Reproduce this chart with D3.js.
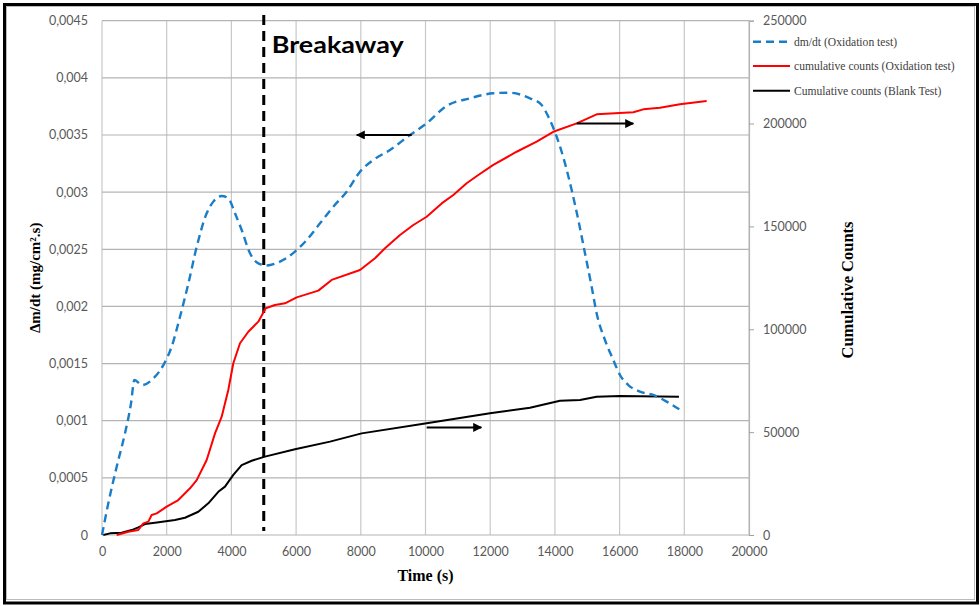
<!DOCTYPE html>
<html><head><meta charset="utf-8">
<script src="https://cdn.jsdelivr.net/npm/d3@7"></script>
<style>body{margin:0;background:#fff}svg{display:block}</style>
</head><body>
<svg id="c" width="980" height="606"></svg>
<script>
// ---- data ----
const xTicks = [0,2000,4000,6000,8000,10000,12000,14000,16000,18000,20000];
const leftTicks = [0,0.0005,0.001,0.0015,0.002,0.0025,0.003,0.0035,0.004,0.0045];
const leftTickLabels = ["0","0,0005","0,001","0,0015","0,002","0,0025","0,003","0,0035","0,004","0,0045"];
const rightTicks = [0,50000,100000,150000,200000,250000];

const dmdtTime = [0,195,454,711,896,1000,1247,1587,1896,2153,2411,2669,2926,3236,3441,3700,3904,4111,4318,4575,4832,5090,5450,5966,6327,6739,7150,7563,7975,8386,8902,9520,10036,10654,11375,12096,12560,13230,13591,13797,14054,14312,14518,14724,14930,15136,15290,15548,15806,16012,16269,16630,17042,17454,17845];
const dmdtValue = [0,0.000277,0.000598,0.00089,0.00115,0.001356,0.001312,0.00137,0.001487,0.001648,0.00191,0.0022,0.00252,0.002815,0.002917,0.002966,0.002946,0.002815,0.002669,0.002465,0.002377,0.002358,0.002385,0.00248,0.002581,0.002727,0.002873,0.003004,0.003179,0.003281,0.003369,0.0035,0.003602,0.003754,0.003821,0.003865,0.00387,0.003821,0.003762,0.00366,0.003485,0.003252,0.003019,0.002756,0.002465,0.002173,0.00194,0.001706,0.001531,0.0014,0.001312,0.001254,0.001225,0.001167,0.0011];

const oxTime = [454,812,1122,1278,1432,1536,1690,2000,2359,2720,2927,3236,3493,3700,3904,4059,4266,4523,4832,5060,5347,5657,6018,6687,7099,7975,8439,8748,9212,9624,10036,10500,10860,11272,11633,12096,12818,13436,13950,14673,15291,16423,16732,17248,17866,18691];
const oxCounts = [0,1600,2430,5670,6480,9720,10500,13770,17000,22700,26700,36460,49400,57500,70500,83500,93200,98800,103700,110200,111800,112600,115500,118800,124000,128800,134500,139400,145800,150700,154700,161200,165300,171000,175000,179900,186300,191200,196000,200100,204500,205500,206900,207700,209400,211000];

const blankTime = [40,247,608,918,1122,1329,1638,2256,2565,2977,3286,3595,3802,4059,4318,4627,5038,5966,7048,8027,10036,11994,13230,14157,14776,15291,16012,17835];
const blankCounts = [0,800,1100,2400,3700,5300,6000,7300,8400,11300,15400,21000,23500,29200,34000,36100,38100,41700,45400,49400,54300,59200,61900,65300,65600,67200,67600,67200];

const seriesNames = ["dm/dt (Oxidation test)","cumulative counts (Oxidation test)","Cumulative counts (Blank Test)"];
const breakawayTime = 5000;
// arrows
const arrowFrom = [9573, 14673, 10036];
const arrowTo = [7873, 16423, 11725];
const arrowValue = [0.0035, 200000, 52300];
const arrowAxis = ["left","right","right"];

// ---- drawing ----
const svg = d3.select("#c");
const x = d3.scaleLinear().domain([0,20000]).range([102,749]);
const yL = d3.scaleLinear().domain([0,0.0045]).range([535,20.7]);
const yR = d3.scaleLinear().domain([0,250000]).range([535,20.7]);

const grid = svg.append("g");
grid.selectAll("line.v").data(xTicks).join("line")
  .attr("x1",d=>x(d)).attr("x2",d=>x(d)).attr("y1",yL(0.0045)).attr("y2",yL(0))
  .attr("stroke","#c8c8c8").attr("stroke-width",1.2);
grid.selectAll("line.h").data(leftTicks).join("line")
  .attr("x1",x(0)).attr("x2",x(20000)).attr("y1",d=>yL(d)).attr("y2",d=>yL(d))
  .attr("stroke","#b4b4b4").attr("stroke-width",1.2);

const tickFont = "Lato, 'Open Sans', sans-serif";
const gL = svg.append("g").attr("transform",`translate(${x(0)},0)`)
  .call(d3.axisLeft(yL).tickValues(leftTicks).tickSize(0).tickPadding(14).tickFormat((d,i)=>leftTickLabels[i]));
gL.select(".domain").remove();
gL.selectAll("text").attr("font-family",tickFont).attr("font-size",12.5).attr("fill","#595959");

const gB = svg.append("g").attr("transform",`translate(0,${yL(0)})`)
  .call(d3.axisBottom(x).tickValues(xTicks).tickSize(0).tickPadding(12).tickFormat(d3.format("d")));
gB.select(".domain").remove();
gB.selectAll("text").attr("font-family",tickFont).attr("font-size",12.5).attr("fill","#595959");

const gR = svg.append("g").attr("transform",`translate(${x(20000)},0)`)
  .call(d3.axisRight(yR).tickValues(rightTicks).tickSize(5).tickPadding(9).tickFormat(d3.format("d")));
gR.select(".domain").attr("stroke","#b4b4b4").attr("stroke-width",1.2);
gR.selectAll(".tick line").attr("stroke","#a0a0a0");
gR.selectAll("text").attr("font-family",tickFont).attr("font-size",12.5).attr("fill","#595959");

// breakaway line
svg.append("line").attr("x1",x(breakawayTime)).attr("x2",x(breakawayTime))
  .attr("y1",15).attr("y2",531).attr("stroke","#000").attr("stroke-width",3).attr("stroke-dasharray","10,6");
svg.append("text").attr("x",x(breakawayTime)+8).attr("y",53)
  .attr("font-family","Lato, 'Open Sans', sans-serif").attr("font-weight","bold").attr("font-size",23)
  .attr("textLength",132).attr("lengthAdjust","spacingAndGlyphs").text("Breakaway");

// lines
const lineL = d3.line().x(d=>x(d[0])).y(d=>yL(d[1])).curve(d3.curveMonotoneX);
const lineR = d3.line().x(d=>x(d[0])).y(d=>yR(d[1]));
svg.append("path").datum(blankTime.map((t,i)=>[t,blankCounts[i]])).attr("d",lineR)
  .attr("fill","none").attr("stroke","#000").attr("stroke-width",2).attr("stroke-linejoin","round");
svg.append("path").datum(oxTime.map((t,i)=>[t,oxCounts[i]])).attr("d",lineR)
  .attr("fill","none").attr("stroke","#ff0000").attr("stroke-width",2).attr("stroke-linejoin","round");
svg.append("path").datum(dmdtTime.map((t,i)=>[t,dmdtValue[i]])).attr("d",lineL)
  .attr("fill","none").attr("stroke","#1a7dc8").attr("stroke-width",2.4).attr("stroke-dasharray","8,5");

// arrows
svg.append("defs").append("marker").attr("id","ah").attr("viewBox","0 0 10 10")
  .attr("refX",9).attr("refY",5).attr("markerWidth",4.5).attr("markerHeight",4.5).attr("orient","auto")
  .append("path").attr("d","M0,0L10,5L0,10Z").attr("fill","#000");
svg.selectAll("line.arrow").data(arrowFrom).join("line").attr("class","arrow")
  .attr("x1",(d,i)=>x(d)).attr("x2",(d,i)=>x(arrowTo[i]))
  .attr("y1",(d,i)=>arrowAxis[i]==="left"?yL(arrowValue[i]):yR(arrowValue[i]))
  .attr("y2",(d,i)=>arrowAxis[i]==="left"?yL(arrowValue[i]):yR(arrowValue[i]))
  .attr("stroke","#000").attr("stroke-width",2).attr("marker-end","url(#ah)");

// legend
const legY = [41.7,66,90.7];
const leg = svg.append("g");
const legStyles = [{c:"#1a7dc8",d:"8,5",w:2.4},{c:"#ff0000",d:null,w:2},{c:"#000",d:null,w:2}];
seriesNames.forEach((n,i)=>{
  leg.append("line").attr("x1",753).attr("x2",790).attr("y1",legY[i]).attr("y2",legY[i])
    .attr("stroke",legStyles[i].c).attr("stroke-width",legStyles[i].w).attr("stroke-dasharray",legStyles[i].d);
  leg.append("text").attr("x",794).attr("y",legY[i]+4).attr("font-family","'Liberation Serif', serif")
    .attr("font-size",11.6).attr("fill","#404040").text(n);
});

// axis titles
const serif = "'Liberation Serif', 'DejaVu Serif', serif";
svg.append("text").attr("transform",`translate(40,${(yL(0)+yL(0.0045))/2}) rotate(-90)`)
  .attr("text-anchor","middle").attr("font-family",serif).attr("font-weight","bold").attr("font-size",15)
  .text("Δm/dt (mg/cm².s)");
svg.append("text").attr("transform",`translate(853,290) rotate(-90)`)
  .attr("text-anchor","middle").attr("font-family",serif).attr("font-weight","bold").attr("font-size",16.5)
  .text("Cumulative Counts");
svg.append("text").attr("x",(x(0)+x(20000))/2).attr("y",581)
  .attr("text-anchor","middle").attr("font-family",serif).attr("font-weight","bold").attr("font-size",16)
  .text("Time (s)");

// frame
svg.append("rect").attr("x",6.5).attr("y",6.5).attr("width",968).attr("height",593)
  .attr("fill","none").attr("stroke","#bbb").attr("stroke-width",1);
svg.append("rect").attr("x",4.5).attr("y",4.5).attr("width",973).attr("height",598.5)
  .attr("fill","none").attr("stroke","#000").attr("stroke-width",3);
</script>
</body></html>
